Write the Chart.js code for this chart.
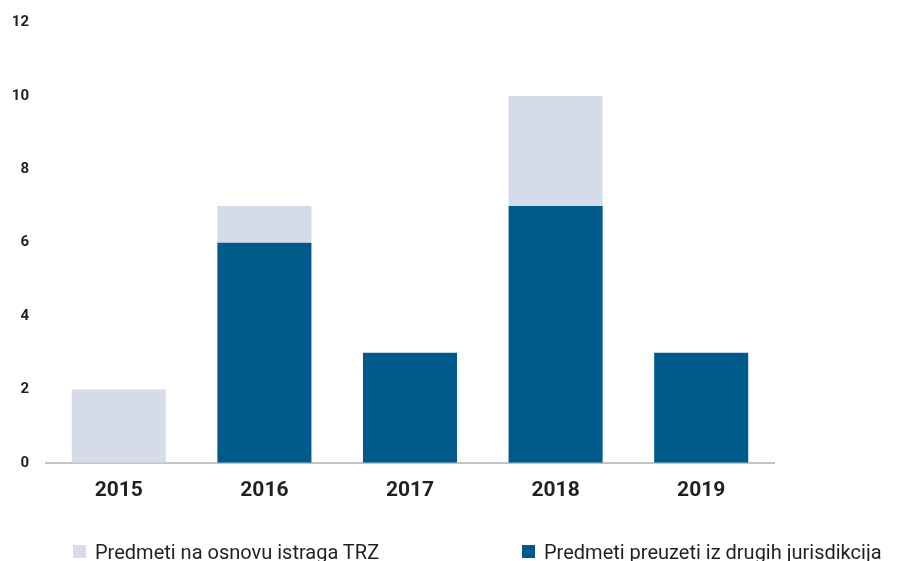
<!DOCTYPE html>
<html>
<head>
<meta charset="utf-8">
<script src="https://cdn.jsdelivr.net/npm/chart.js@4"></script>
<style>
  html, body { margin: 0; padding: 0; background: #fff; }
  #wrap { position: relative; width: 906px; height: 561px; overflow: hidden; }
  .leg { position: absolute; top: 540px; font: 20px Roboto, sans-serif; color: #231f20; white-space: nowrap; }
  .leg i { display: inline-block; width: 13px; height: 13px; margin-right: 9px; vertical-align: 1px; }
</style>
</head>
<body>
<div id="wrap">
  <canvas id="chart" width="906" height="561"></canvas>
  <div class="leg" style="left:73px"><i style="background:#d5dbe8"></i>Predmeti na osnovu istraga TRZ</div>
  <div class="leg" style="left:522px"><i style="background:#005a8c"></i>Predmeti preuzeti iz drugih jurisdikcija</div>
</div>
<script>
const years = ['2015', '2016', '2017', '2018', '2019'];
const preuzeti = [0, 6, 3, 7, 3];   // dark, bottom of stack
const istrage = [2, 1, 0, 3, 0];    // light, on top

new Chart(document.getElementById('chart'), {
  type: 'bar',
  data: {
    labels: years,
    datasets: [
      { label: 'Predmeti preuzeti iz drugih jurisdikcija', data: preuzeti, backgroundColor: '#005a8c' },
      { label: 'Predmeti na osnovu istraga TRZ', data: istrage, backgroundColor: '#d5dbe8' }
    ]
  },
  options: {
    responsive: false,
    animation: false,
    layout: { padding: { top: 10, right: 132, bottom: 43, left: 0 } },
    plugins: { legend: { display: false }, tooltip: { enabled: false } },
    datasets: { bar: { barPercentage: 0.646, categoryPercentage: 1 } },
    scales: {
      x: {
        stacked: true,
        grid: { display: false, drawTicks: false },
        border: { color: '#c4c4c4', width: 2 },
        ticks: { color: '#231f20', padding: 15, font: { family: 'Roboto', size: 21, weight: 'bold' } }
      },
      y: {
        stacked: true,
        min: 0, max: 12,
        grid: { display: false, drawTicks: false },
        border: { display: false },
        // small lineHeight: the y scale's top padding is half a label plus tick padding
        ticks: { stepSize: 2, color: '#231f20', padding: 17, font: { family: 'Roboto', size: 15, weight: 'bold', lineHeight: 0.75 } },
        afterFit: s => { s.width = 46; }
      }
    }
  }
});
</script>
</body>
</html>
